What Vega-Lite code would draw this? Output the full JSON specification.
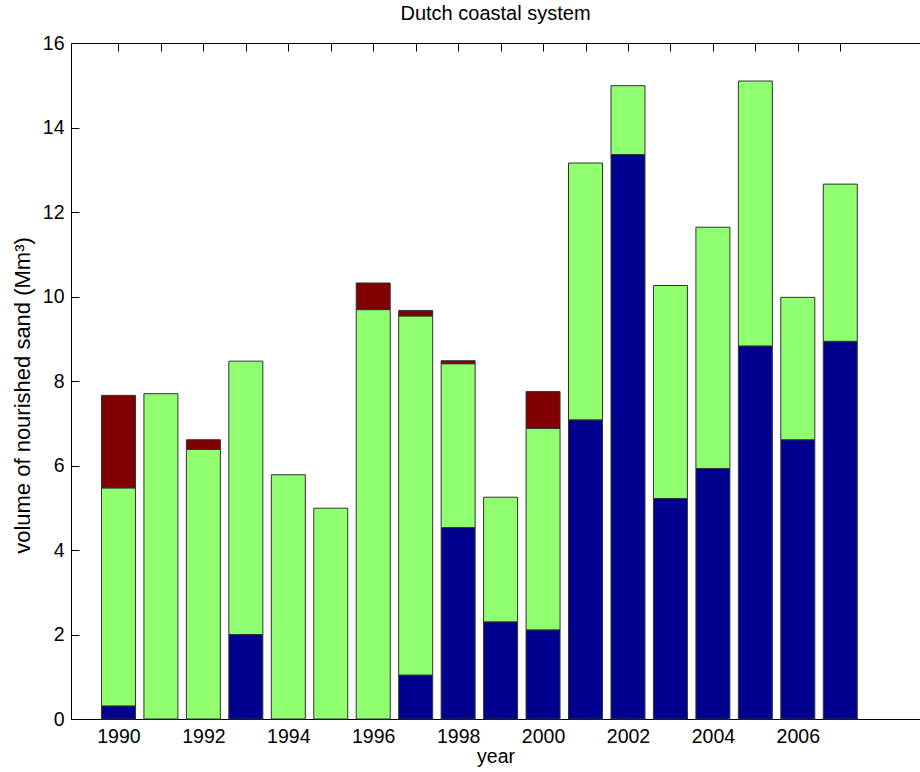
{
  "$schema": "https://vega.github.io/schema/vega-lite/v6.json",
  "autosize": {"type": "none"},
  "padding": {"left": 71, "top": 43, "right": 0, "bottom": 53},
  "width": 849,
  "height": 676,
  "background": "white",
  "config": {
    "view": {"stroke": null},
    "font": "Liberation Sans",
    "axis": {
      "grid": false,
      "domainColor": "#000",
      "domainWidth": 1,
      "tickColor": "#000",
      "tickWidth": 1,
      "labelColor": "#000",
      "titleColor": "#000",
      "labelFontSize": 19.5,
      "titleFontSize": 19.5,
      "titleFontWeight": "normal",
      "labelFlush": false,
      "labelOverlap": false
    }
  },
  "title": {
    "text": "Dutch coastal system",
    "fontSize": 20,
    "fontWeight": "normal",
    "color": "#000",
    "anchor": "middle",
    "offset": 9
  },
  "data": {
    "values": [
      {"year": 1990, "part": 1, "volume": 0.31},
      {"year": 1990, "part": 2, "volume": 5.16},
      {"year": 1990, "part": 3, "volume": 2.19},
      {"year": 1991, "part": 2, "volume": 7.70},
      {"year": 1992, "part": 2, "volume": 6.38},
      {"year": 1992, "part": 3, "volume": 0.23},
      {"year": 1993, "part": 1, "volume": 2.00},
      {"year": 1993, "part": 2, "volume": 6.47},
      {"year": 1994, "part": 2, "volume": 5.78},
      {"year": 1995, "part": 2, "volume": 4.99},
      {"year": 1996, "part": 2, "volume": 9.69},
      {"year": 1996, "part": 3, "volume": 0.63},
      {"year": 1997, "part": 1, "volume": 1.04},
      {"year": 1997, "part": 2, "volume": 8.50},
      {"year": 1997, "part": 3, "volume": 0.13},
      {"year": 1998, "part": 1, "volume": 4.53},
      {"year": 1998, "part": 2, "volume": 3.88},
      {"year": 1998, "part": 3, "volume": 0.07},
      {"year": 1999, "part": 1, "volume": 2.30},
      {"year": 1999, "part": 2, "volume": 2.95},
      {"year": 2000, "part": 1, "volume": 2.11},
      {"year": 2000, "part": 2, "volume": 4.77},
      {"year": 2000, "part": 3, "volume": 0.87},
      {"year": 2001, "part": 1, "volume": 7.08},
      {"year": 2001, "part": 2, "volume": 6.08},
      {"year": 2002, "part": 1, "volume": 13.36},
      {"year": 2002, "part": 2, "volume": 1.63},
      {"year": 2003, "part": 1, "volume": 5.22},
      {"year": 2003, "part": 2, "volume": 5.04},
      {"year": 2004, "part": 1, "volume": 5.93},
      {"year": 2004, "part": 2, "volume": 5.71},
      {"year": 2005, "part": 1, "volume": 8.83},
      {"year": 2005, "part": 2, "volume": 6.27},
      {"year": 2006, "part": 1, "volume": 6.61},
      {"year": 2006, "part": 2, "volume": 3.37},
      {"year": 2007, "part": 1, "volume": 8.94},
      {"year": 2007, "part": 2, "volume": 3.72}
    ]
  },
  "layer": [
    {
      "mark": {"type": "bar", "size": 34, "stroke": "#333", "strokeWidth": 1},
      "encoding": {
        "x": {
          "field": "year",
          "type": "quantitative",
          "scale": {"domain": [1989, 2008.76], "nice": false, "zero": false},
          "axis": {
            "orient": "bottom",
            "values": [1990, 1991, 1992, 1993, 1994, 1995, 1996, 1997, 1998, 1999, 2000, 2001, 2002, 2003, 2004, 2005, 2006, 2007],
            "format": "d",
            "labelExpr": "datum.value % 2 === 0 ? datum.label : ''",
            "tickSize": -8,
            "labelPadding": 16,
            "title": "year",
            "titlePadding": 2
          }
        },
        "y": {
          "field": "volume",
          "type": "quantitative",
          "stack": "zero",
          "scale": {"domain": [0, 16], "nice": false},
          "axis": {
            "values": [0, 2, 4, 6, 8, 10, 12, 14, 16],
            "tickSize": -8,
            "labelPadding": 15,
            "title": "volume of nourished sand (Mm³)",
            "titleFontSize": 22,
            "titleY": 352,
            "titlePadding": 8
          }
        },
        "color": {
          "field": "part",
          "type": "nominal",
          "scale": {"domain": [1, 2, 3], "range": ["#00008F", "#8FFF70", "#800000"]},
          "legend": null
        },
        "order": {"field": "part", "type": "quantitative", "sort": "ascending"}
      }
    },
    {
      "mark": {"type": "point", "opacity": 0},
      "encoding": {
        "x": {
          "field": "year",
          "type": "quantitative",
          "axis": {
            "orient": "top",
            "values": [1990, 1991, 1992, 1993, 1994, 1995, 1996, 1997, 1998, 1999, 2000, 2001, 2002, 2003, 2004, 2005, 2006, 2007],
            "labels": false,
            "tickSize": -8,
            "title": null
          }
        }
      }
    }
  ]
}
